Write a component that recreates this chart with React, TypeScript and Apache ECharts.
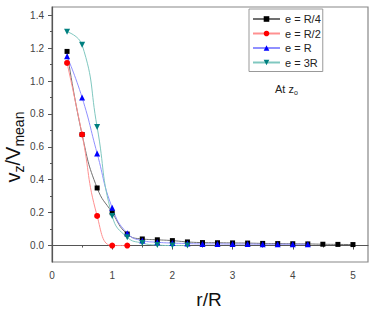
import React, { useEffect, useRef } from "react";
import * as echarts from "echarts";

const rBlack = [0.25, 0.5, 0.75, 1.0, 1.25, 1.5, 1.75, 2.0, 2.25, 2.5, 2.75, 3.0, 3.25, 3.5, 3.75, 4.0, 4.25, 4.5, 4.75, 5.0];
const vBlack = [1.18, 0.675, 0.35, 0.2, 0.07, 0.04, 0.035, 0.03, 0.022, 0.018, 0.017, 0.016, 0.015, 0.013, 0.012, 0.011, 0.01, 0.008, 0.007, 0.006];
const rRed = [0.25, 0.5, 0.75, 1.0, 1.25];
const vRed = [1.11, 0.675, 0.18, 0.0, 0.0];
const rBlue = [0.25, 0.5, 0.75, 1.0, 1.25, 1.5, 1.75, 2.0, 2.25, 2.5, 2.75, 3.0, 3.25, 3.5, 3.75, 4.0, 4.25];
const vBlue = [1.15, 0.9, 0.56, 0.23, 0.075, 0.03, 0.02, 0.015, 0.012, 0.01, 0.01, 0.009, 0.009, 0.008, 0.008, 0.008, 0.008];
const rTeal = [0.25, 0.5, 0.75, 1.0, 1.25, 1.5, 1.75, 2.0, 2.25];
const vTeal = [1.3, 1.22, 0.72, 0.18, 0.05, 0.015, 0.003, 0.0, 0.0];

const seriesNames = ["e = R/4", "e = R/2", "e = R", "e = 3R"];
const xMajor = [0, 1, 2, 3, 4, 5];
const xMinor = [0.5, 1.5, 2.5, 3.5, 4.5];
const yMajor = [0, 0.2, 0.4, 0.6, 0.8, 1.0, 1.2, 1.4];
const yMinor = [0.1, 0.3, 0.5, 0.7, 0.9, 1.1, 1.3];

const FONT = "'Liberation Sans', Arial, sans-serif";

const pairs = (xs: number[], ys: number[]) => xs.map((x, i) => [x, ys[i]]);

export default function App() {
  const ref = useRef<HTMLDivElement>(null);
  useEffect(() => {
    if (!ref.current) return;
    const chart = echarts.init(ref.current, undefined, { renderer: "svg" });
    const axisColor = "#555";
    const mkSeries = (name: string, data: number[][], symbol: string, size: number, markColor: string, lineColor: string, rotate = 0) => ({
      name,
      type: "line",
      data,
      smooth: 0.5,
      symbol,
      symbolSize: size,
      symbolRotate: rotate,
      showAllSymbol: true,
      itemStyle: { color: markColor },
      lineStyle: { color: lineColor, width: 1 },
      xAxisIndex: 0,
      yAxisIndex: 0,
    });
    chart.setOption({
      animation: false,
      grid: { left: 52, right: 11, top: 7, bottom: 53, show: true, borderColor: "#888", borderWidth: 1.2, backgroundColor: "transparent" },
      xAxis: [
        {
          type: "value", min: 0, max: 5.25, position: "bottom",
          axisLine: { show: true, lineStyle: { color: axisColor, width: 1.2 } },
          axisTick: { show: true, length: 4, customValues: xMajor, lineStyle: { color: axisColor } },
          axisLabel: { customValues: xMajor, margin: 8, fontSize: 10, color: "#444", fontFamily: FONT, formatter: (v: number) => String(v) },
          splitLine: { show: false },
        },
        {
          type: "value", min: 0, max: 5.25, position: "bottom",
          axisLine: { show: false },
          axisTick: { show: true, length: 2, customValues: xMinor, lineStyle: { color: axisColor } },
          axisLabel: { show: false },
          splitLine: { show: false },
        },
      ],
      yAxis: [
        {
          type: "value", min: -0.1, max: 1.45, position: "left",
          axisLine: { show: true, lineStyle: { color: axisColor, width: 1.2 } },
          axisTick: { show: true, length: 4, customValues: yMajor, lineStyle: { color: axisColor } },
          axisLabel: { customValues: yMajor, margin: 8, fontSize: 10, color: "#444", fontFamily: FONT, formatter: (v: number) => v.toFixed(1) },
          splitLine: { show: false },
        },
        {
          type: "value", min: -0.1, max: 1.45, position: "left",
          axisLine: { show: false },
          axisTick: { show: true, length: 2, customValues: yMinor, lineStyle: { color: axisColor } },
          axisLabel: { show: false },
          splitLine: { show: false },
        },
      ],
      legend: {
        orient: "vertical",
        left: 249,
        top: 9,
        data: seriesNames,
        padding: [4, 2, 3, 3],
        itemWidth: 27,
        itemHeight: 7,
        itemGap: 2.5,
        borderColor: "#999",
        borderWidth: 1,
        backgroundColor: "#fff",
        textStyle: { fontSize: 11, fontFamily: FONT, color: "#222", lineHeight: 12 },
      },
      graphic: [
        {
          type: "text",
          x: 13,
          y: 147,
          rotation: Math.PI / 2,
          style: {
            text: "{a|v}{b|z}{a|/V}{b|mean}",
            align: "center",
            verticalAlign: "middle",
            rich: {
              a: { fontSize: 20, fontFamily: FONT, fill: "#111", lineHeight: 26, verticalAlign: "middle" },
              b: { fontSize: 14, fontFamily: FONT, fill: "#111", lineHeight: 26, verticalAlign: "bottom" },
            },
          },
        },
        {
          type: "text",
          x: 209,
          y: 299,
          style: { text: "r/R", fontSize: 19, fontFamily: FONT, fill: "#111", align: "center", verticalAlign: "middle" },
        },
        {
          type: "text",
          x: 275,
          y: 82,
          style: {
            text: "{a|At z}{b|o}",
            rich: {
              a: { fontSize: 11, fontFamily: FONT, fill: "#222", lineHeight: 14, verticalAlign: "middle" },
              b: { fontSize: 7, fontFamily: FONT, fill: "#222", lineHeight: 14, verticalAlign: "bottom" },
            },
          },
        },
      ],
      series: [
        mkSeries(seriesNames[0], pairs(rBlack, vBlack), "rect", 5, "#000000", "#707070"),
        mkSeries(seriesNames[1], pairs(rRed, vRed), "circle", 6, "#ff0000", "#ff9090"),
        mkSeries(seriesNames[2], pairs(rBlue, vBlue), "triangle", 6, "#0000ff", "#9090ff"),
        mkSeries(seriesNames[3], pairs(rTeal, vTeal), "triangle", 6, "#008080", "#80c8c0", 180),
      ],
    });
    return () => chart.dispose();
  }, []);
  return <div ref={ref} style={{ width: 379, height: 315, position: "absolute", left: 0, top: 0 }} />;
}
